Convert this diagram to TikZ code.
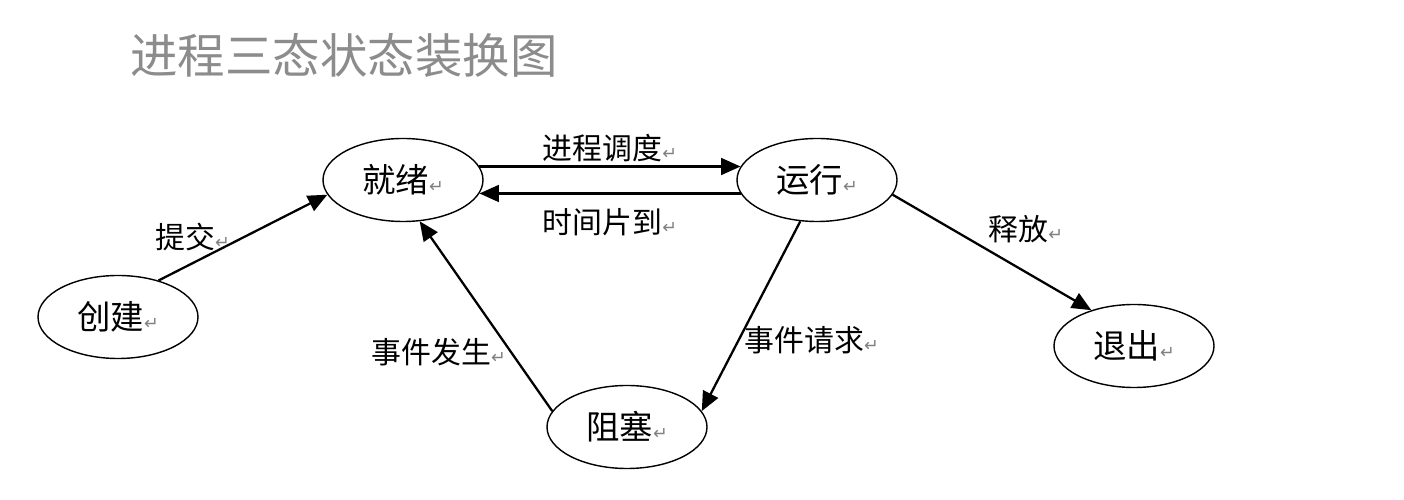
\documentclass[tikz,border=0pt]{standalone}
\usepackage{fontspec}
\setmainfont{Noto Sans CJK SC}
\newfontfamily\retfont{DejaVu Sans}
\usetikzlibrary{shapes.geometric,arrows.meta,positioning}
\newcommand{\pmark}{{\retfont\fontsize{10pt}{10pt}\selectfont\color{black!50}↵}}
\tikzset{
  proc/.style={ellipse,draw,line width=0.8pt,minimum width=3.2cm,minimum height=1.66cm,inner sep=0pt,font=\fontsize{19pt}{19pt}\selectfont},
  lbl/.style={font=\fontsize{17pt}{17pt}\selectfont,inner sep=2pt},
  headline/.style={font=\fontsize{27pt}{27pt}\selectfont,text=black!45}
}

\begin{document}
\begin{tikzpicture}[node distance=5cm,on grid,auto,>={Triangle[length=11pt,width=9.5pt]}]
\useasboundingbox (0,0) rectangle (28.08,-10);
\node[proc] (ready) at (8.06,-3.6) {就绪\pmark};
\node[proc] (run) [right=8.28cm of ready] {运行\pmark};
\node[proc] (create) [below left=2.74cm and 5.7cm of ready] {创建\pmark};
\node[proc] (block) [below right=4.94cm and 4.48cm of ready] {阻塞\pmark};
\node[proc] (exit) [below right=3.32cm and 6.34cm of run] {退出\pmark};
\node[headline] (title) [above left=2.5cm and 1.18cm of ready] {进程三态状态装换图};
\path[->,line width=1.3pt,every node/.style=lbl]
  (create.42) edge node[pos=0.45,yshift=-0.28cm] {提交\pmark} (ready.191)
  (ready.10) edge node {进程调度\pmark} (run.170)
  (run.190) edge node[yshift=-0.2cm] {时间片到\pmark} (ready.350)
  (run.-11) edge node[pos=0.46] {释放\pmark} (exit.140)
  (run.248) edge node[pos=0.53,xshift=-0.16cm] {事件请求\pmark} (block.12)
  (block.168) edge node[pos=0.41,xshift=0.25cm] {事件发生\pmark} (ready.292);
\end{tikzpicture}
\end{document}
